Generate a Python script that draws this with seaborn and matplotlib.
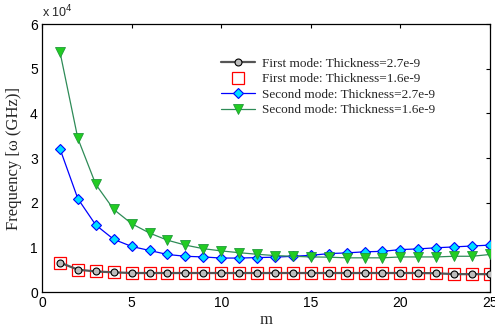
import matplotlib
matplotlib.use("Agg")
import matplotlib.pyplot as plt
import seaborn as sns
import pandas as pd
import numpy as np
from matplotlib.ticker import FuncFormatter, MultipleLocator

m = list(range(1, 26))
first_27 = [6600, 5000, 4600, 4400, 4250, 4250, 4250, 4250, 4250, 4250, 4250, 4250, 4250,
            4250, 4250, 4250, 4250, 4250, 4250, 4250, 4250, 4200, 4000, 4000, 4000]
first_16 = [6600, 5000, 4600, 4400, 4250, 4250, 4250, 4250, 4250, 4250, 4250, 4250, 4250,
            4250, 4250, 4250, 4250, 4250, 4250, 4250, 4250, 4250, 4050, 4000, 4000]
second_27 = [32100, 20900, 15000, 11800, 10200, 9300, 8400, 8000, 7850, 7600, 7600, 7700, 7800,
             8000, 8200, 8600, 8750, 9000, 9100, 9500, 9650, 9900, 10100, 10300, 10500]
second_16 = [53800, 34400, 24100, 18500, 15300, 13200, 11600, 10500, 9700, 9200, 8800, 8450, 8150,
             8000, 7850, 7800, 7650, 7650, 7650, 7850, 7850, 7850, 8000, 8000, 8400]
labels = ["First mode: Thickness=2.7e-9", "First mode: Thickness=1.6e-9",
          "Second mode: Thickness=2.7e-9", "Second mode: Thickness=1.6e-9"]

df = pd.DataFrame({"m": m, labels[0]: first_27, labels[1]: first_16,
                   labels[2]: second_27, labels[3]: second_16})

sns.set_theme(style="white")
plt.rcParams["font.family"] = ["Liberation Sans", "DejaVu Sans"]

fig = plt.figure(figsize=(4.95, 3.28), dpi=100)
ax = fig.add_axes([42/495, 1-292/328, (490-42)/495, (292-24)/328])

sns.lineplot(data=df, x="m", y=labels[0], ax=ax, color="#555555", lw=1.6,
             marker="o", markersize=5, markerfacecolor="#bdbdbd", markeredgecolor="black",
             markeredgewidth=0.8, label=labels[0], zorder=3)
sns.lineplot(data=df, x="m", y=labels[1], ax=ax, color="red", lw=0,
             marker="s", markersize=8, markerfacecolor="none", markeredgecolor="red",
             markeredgewidth=0.9, label=labels[1], zorder=2)
sns.lineplot(data=df, x="m", y=labels[2], ax=ax, color="blue", lw=0.9,
             marker="D", markersize=5.5, markerfacecolor="#00dfff", markeredgecolor="blue",
             markeredgewidth=0.8, label=labels[2], zorder=3)
sns.lineplot(data=df, x="m", y=labels[3], ax=ax, color="#2e8b57", lw=0.9,
             marker="v", markersize=7.5, markerfacecolor="#22cc22", markeredgecolor="#1f9a3a",
             markeredgewidth=0.6, label=labels[3], zorder=3)

ax.set_xlim(0, 25)
ax.set_ylim(0, 60000)
ax.xaxis.set_major_locator(MultipleLocator(5))
ax.yaxis.set_major_locator(MultipleLocator(10000))
ax.yaxis.set_major_formatter(FuncFormatter(lambda v, p: f"{v/1e4:g}"))
ax.tick_params(direction="in", length=3, width=0.8, top=True, right=True,
               labelsize=10, colors="black", pad=3)
for s in ax.spines.values():
    s.set_color("black")
    s.set_linewidth(0.9)

ax.set_xlabel("m", fontsize=12, family="Liberation Serif", labelpad=1)
ax.set_ylabel("Frequency [\u03c9 (GHz)]", fontsize=12, family="Liberation Serif", labelpad=6)
ax.text(0.0, 1.012, "x 10$^{4}$", transform=ax.transAxes, fontsize=9, ha="left", va="bottom")

leg = ax.legend(loc="upper left", bbox_to_anchor=(0.387, 0.895), frameon=False,
                prop={"family": "Liberation Serif", "size": 9.5}, handlelength=2.6,
                handletextpad=0.5, labelspacing=0.25, borderaxespad=0)

fig.savefig("out.png", dpi=100)
